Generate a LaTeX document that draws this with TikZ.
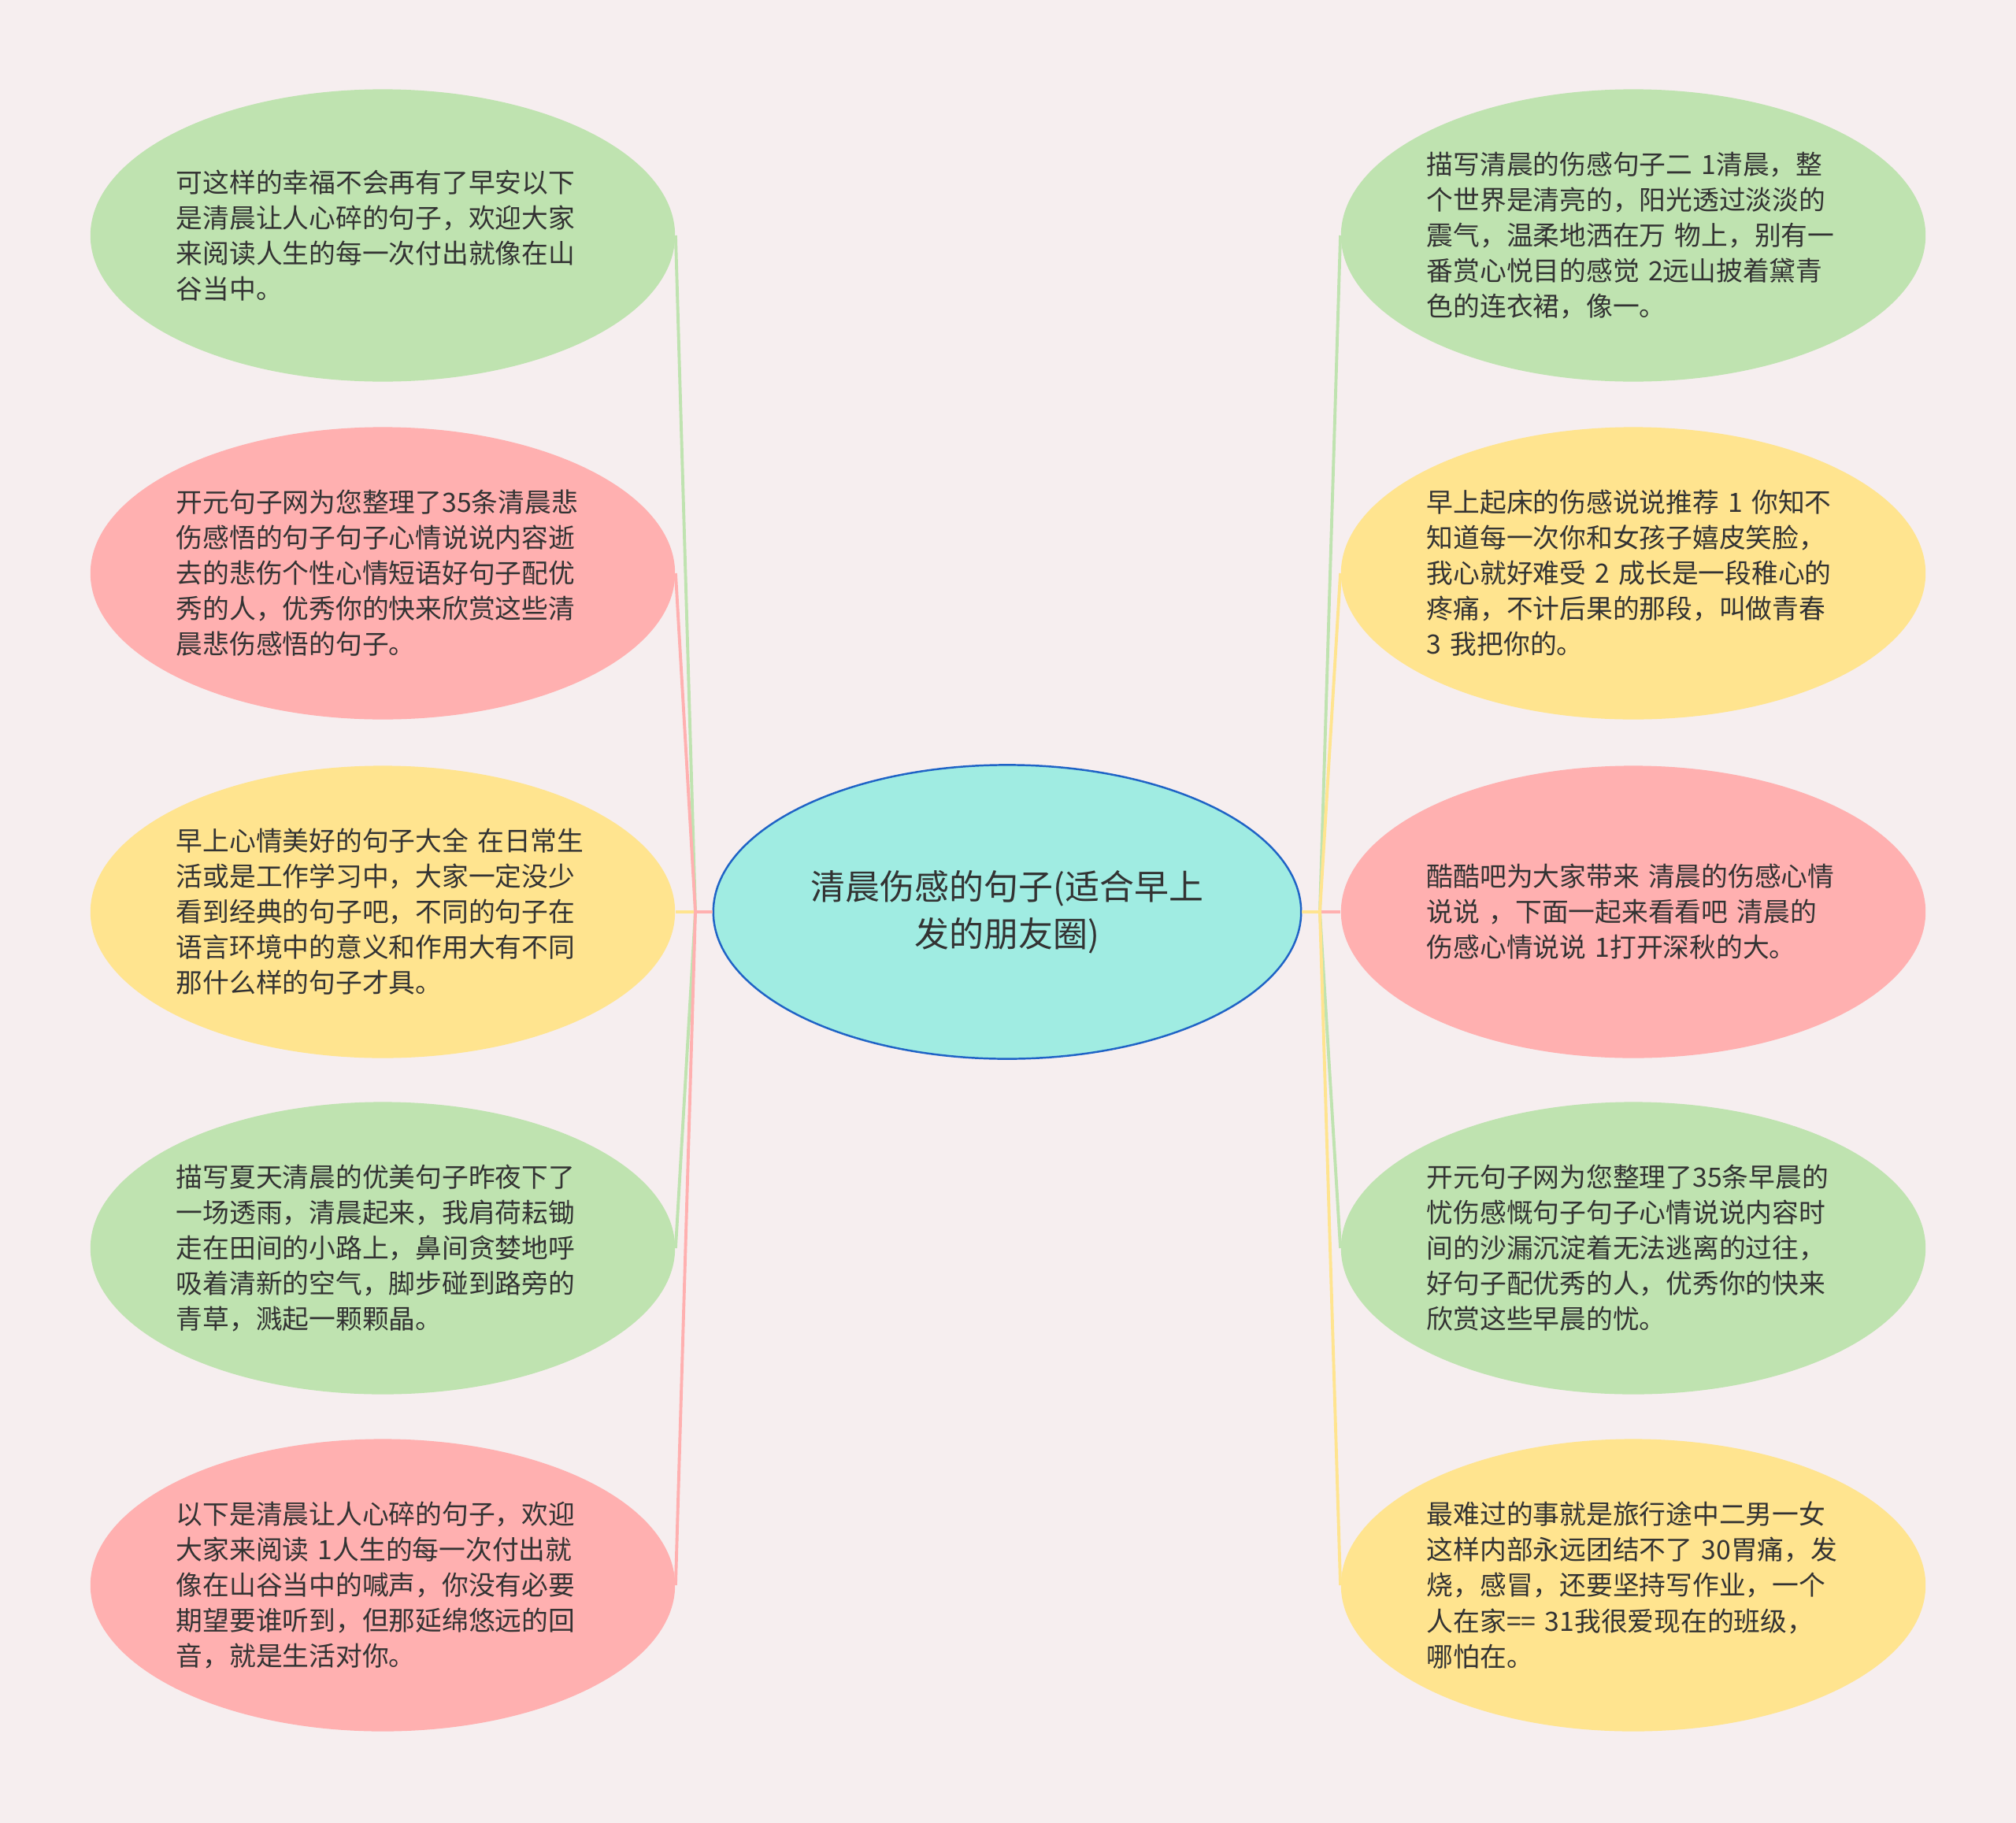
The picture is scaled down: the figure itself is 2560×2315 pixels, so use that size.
\documentclass[tikz,border=0pt]{standalone}
\usepackage{fontspec}
\setmainfont{Noto Sans CJK SC}
\usepackage{tikz}
\usetikzlibrary{shapes.geometric}
\usepackage{xcolor}
\definecolor{paper}{HTML}{F6EEEF}
\definecolor{leafgreen}{HTML}{BFE3B0}
\definecolor{leafpink}{HTML}{FFB0B0}
\definecolor{leafyellow}{HTML}{FFE48F}
\definecolor{rootcyan}{HTML}{A0ECE2}
\definecolor{rootblue}{HTML}{1F63C6}
\definecolor{ink}{HTML}{333333}

\begin{document}
\begin{tikzpicture}[x=0.01cm, y=-0.01cm,
    leaf/.style={ellipse, minimum width=7.42cm, minimum height=3.71cm, inner sep=0pt,
      text width=5.24cm, align=left, text=ink, font=\fontsize{9.6}{12.8}\selectfont},
    link/.style={line width=1.1pt}]
      \fill[paper] (0,0) rectangle (2560,2315);
      \useasboundingbox (0,0) rectangle (2560,2315);
      % centre
      \node[ellipse, draw=rootblue, line width=0.7pt, fill=rootcyan, minimum width=7.46cm, minimum height=3.73cm,
        inner sep=0pt, align=center, text=ink, font=\fontsize{12.5}{17}\selectfont] (root) at (1279,1158)
        {清晨伤感的句子(适合早上\\发的朋友圈)};
      % left side
      \node[leaf, fill=leafgreen] (l1) at (486,299)
        {可这样的幸福不会再有了早安以下\\是清晨让人心碎的句子，欢迎大家\\来阅读人生的每一次付出就像在山\\谷当中。};
      \node[leaf, fill=leafpink] (l2) at (486,728)
        {开元句子网为您整理了35条清晨悲\\伤感悟的句子句子心情说说内容逝\\去的悲伤个性心情短语好句子配优\\秀的人，优秀你的快来欣赏这些清\\晨悲伤感悟的句子。};
      \node[leaf, fill=leafyellow] (l3) at (486,1158)
        {早上心情美好的句子大全 在日常生\\活或是工作学习中，大家一定没少\\看到经典的句子吧，不同的句子在\\语言环境中的意义和作用大有不同\\那什么样的句子才具。};
      \node[leaf, fill=leafgreen] (l4) at (486,1585)
        {描写夏天清晨的优美句子昨夜下了\\一场透雨，清晨起来，我肩荷耘锄\\走在田间的小路上，鼻间贪婪地呼\\吸着清新的空气，脚步碰到路旁的\\青草，溅起一颗颗晶。};
      \node[leaf, fill=leafpink] (l5) at (486,2013)
        {以下是清晨让人心碎的句子，欢迎\\大家来阅读 1人生的每一次付出就\\像在山谷当中的喊声，你没有必要\\期望要谁听到，但那延绵悠远的回\\音，就是生活对你。};
      % right side
      \node[leaf, fill=leafgreen] (r1) at (2074,299)
        {描写清晨的伤感句子二 1清晨，整\\个世界是清亮的，阳光透过淡淡的\\震气，温柔地洒在万 物上，别有一\\番赏心悦目的感觉 2远山披着黛青\\色的连衣裙，像一。};
      \node[leaf, fill=leafyellow] (r2) at (2074,728)
        {早上起床的伤感说说推荐 1 你知不\\知道每一次你和女孩子嬉皮笑脸，\\我心就好难受 2 成长是一段稚心的\\疼痛，不计后果的那段，叫做青春\\3 我把你的。};
      \node[leaf, fill=leafpink] (r3) at (2074,1158)
        {酷酷吧为大家带来 清晨的伤感心情\\说说 ，下面一起来看看吧 清晨的\\伤感心情说说 1打开深秋的大。};
      \node[leaf, fill=leafgreen] (r4) at (2074,1585)
        {开元句子网为您整理了35条早晨的\\忧伤感慨句子句子心情说说内容时\\间的沙漏沉淀着无法逃离的过往，\\好句子配优秀的人，优秀你的快来\\欣赏这些早晨的忧。};
      \node[leaf, fill=leafyellow] (r5) at (2074,2013)
        {最难过的事就是旅行途中二男一女\\这样内部永远团结不了 30胃痛，发\\烧，感冒，还要坚持写作业，一个\\人在家== 31我很爱现在的班级，\\哪怕在。};
      \coordinate (jl) at (883,1158);
      \coordinate (jr) at (1676,1158);
      \draw[link, leafgreen] (root.west) -- (jl) -- (l1.east);
      \draw[link, leafpink] (root.west) -- (jl) -- (l2.east);
      \draw[link, leafyellow] (root.west) -- (jl) -- (l3.east);
      \draw[link, leafgreen] (root.west) -- (jl) -- (l4.east);
      \draw[link, leafpink] (root.west) -- (jl) -- (l5.east);
      \draw[link, leafgreen] (root.east) -- (jr) -- (r1.west);
      \draw[link, leafyellow] (root.east) -- (jr) -- (r2.west);
      \draw[link, leafpink] (root.east) -- (jr) -- (r3.west);
      \draw[link, leafgreen] (root.east) -- (jr) -- (r4.west);
      \draw[link, leafyellow] (root.east) -- (jr) -- (r5.west);
    \end{tikzpicture}
\end{document}
